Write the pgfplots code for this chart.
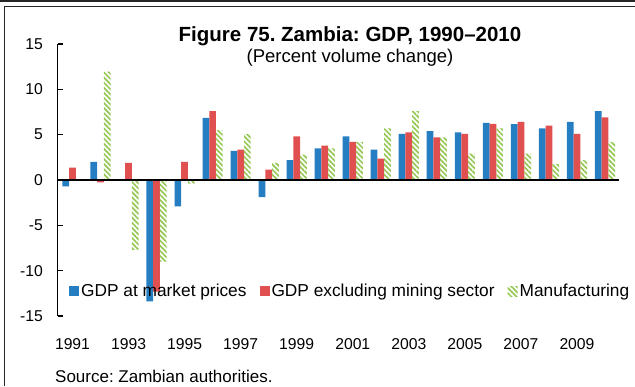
\documentclass[border=0pt]{standalone}
\usepackage{fontspec}
\setmainfont{Liberation Sans}
\usepackage{pgfplots}
\pgfplotsset{compat=1.18}
\usetikzlibrary{patterns.meta}
\frenchspacing

\definecolor{gblue}{RGB}{38,126,194}
\definecolor{gred}{RGB}{224,80,80}
\definecolor{ggreen}{RGB}{150,200,85}

\tikzset{manuf/.style={pattern={Lines[angle=-45,distance=3.6pt,line width=1.7pt]},pattern color=ggreen}}

\begin{document}
\begin{tikzpicture}
\useasboundingbox (0pt,0pt) rectangle (635pt,-386pt);
% frame
\draw[line width=1.6pt,black!85] (0pt,-0.8pt) -- (635pt,-0.8pt);
\draw[line width=1pt,black!85] (4.5pt,-6pt) -- (635pt,-6pt);
\draw[line width=1.2pt,black!85] (4.5pt,-6pt) -- (4.5pt,-386pt);
% titles
\node[font=\bfseries\fontsize{20.5}{24}\selectfont,anchor=base] at (350pt,-41pt) {Figure 75. Zambia: GDP, 1990–2010};
\node[font=\fontsize{18.5}{22}\selectfont,anchor=base] at (350pt,-62pt) {(Percent volume change)};
\node[font=\fontsize{17}{20}\selectfont,anchor=base west,inner sep=0pt] at (55pt,-382pt) {Source: Zambian authorities.};

\begin{axis}[
  at={(57.5pt,-316pt)}, anchor=south west,
  scale only axis, width=561.5pt, height=272pt,
  xmin=-0.535, xmax=19.5, ymin=-15, ymax=15,
  axis lines*=left,
  x axis line style={draw=none},
  y axis line style={line width=1.3pt},
  tick align=inside, major tick length=5pt,
  ytick={-15,-10,-5,0,5,10,15},
  yticklabels={-15,-10,-5,0,5,10,15},
  ytick style={line width=1.2pt,black},
  xtick={0,2,...,18},
  xticklabels={1991,1993,1995,1997,1999,2001,2003,2005,2007,2009},
  xtick style={draw=none},
  ticklabel style={font=\fontsize{15.7}{18}\selectfont},
  xticklabel style={anchor=center,yshift=-23pt},
  yticklabel style={anchor=east,inner sep=0pt,xshift=-14.5pt},
  ybar, bar width=0.24,
  legend style={at={(0.0151,0.0919)}, anchor=west, draw=none, fill=none,
    font=\fontsize{17.3}{20}\selectfont, legend columns=-1,
    nodes={inner xsep=2pt, inner ysep=1pt},
    /tikz/every even column/.append style={column sep=11pt}},
]
\addplot[fill=gblue, draw=none, bar shift=-0.24,
  legend image code/.code={\fill[gblue] (0pt,-5pt) rectangle (10pt,5pt);}]
  coordinates {(0,-0.7)(1,2.0)(2,0)(3,-13.4)(4,-2.9)(5,6.85)(6,3.2)(7,-1.9)(8,2.2)(9,3.5)
               (10,4.8)(11,3.35)(12,5.1)(13,5.4)(14,5.25)(15,6.3)(16,6.15)(17,5.7)(18,6.4)(19,7.6)};
\addplot[fill=gred, draw=none, bar shift=0,
  legend image code/.code={\fill[gred] (0pt,-5pt) rectangle (10pt,5pt);}]
  coordinates {(0,1.36)(1,-0.25)(2,1.9)(3,-12.3)(4,2.0)(5,7.6)(6,3.35)(7,1.15)(8,4.8)(9,3.8)
               (10,4.2)(11,2.35)(12,5.25)(13,4.7)(14,5.1)(15,6.2)(16,6.4)(17,6.0)(18,5.1)(19,6.9)};
\addplot[manuf, draw=none, bar shift=0.24,
  legend image code/.code={\fill[manuf] (0pt,-5pt) rectangle (10pt,5pt);}]
  coordinates {(0,0)(1,11.95)(2,-7.7)(3,-9.0)(4,-0.4)(5,5.5)(6,5.1)(7,1.9)(8,2.8)(9,3.5)
               (10,4.2)(11,5.7)(12,7.6)(13,4.7)(14,2.9)(15,5.7)(16,2.9)(17,1.76)(18,2.2)(19,4.2)};
\draw[line width=1.5pt,black] (axis cs:-0.535,0) -- (axis cs:19.5,0);
\legend{GDP at market prices,GDP excluding mining sector,Manufacturing}
\end{axis}
\end{tikzpicture}
\end{document}
